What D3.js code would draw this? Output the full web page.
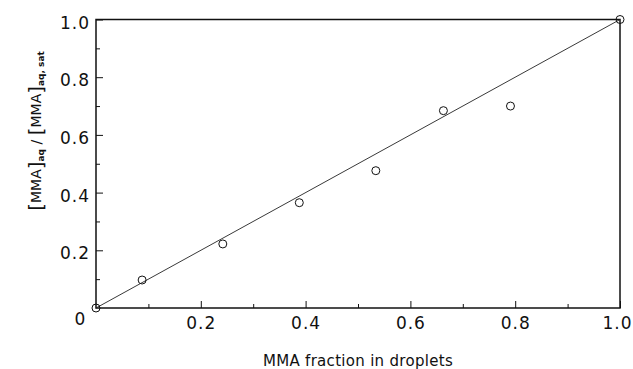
<!DOCTYPE html>
<html>
<head>
<meta charset="utf-8">
<script src="https://cdn.jsdelivr.net/npm/d3@7"></script>
<style>
  body { margin: 0; background: #fff; }
  svg text { font-family: 'DejaVu Sans', sans-serif; fill: #111; }
</style>
</head>
<body>
<div id="chart"></div>
<script>
// measured points: MMA fraction in droplets vs normalised aqueous MMA
const fraction = [0, 0.088, 0.242, 0.388, 0.534, 0.663, 0.791, 1.0]
const ratio = [0, 0.097, 0.222, 0.365, 0.476, 0.684, 0.700, 1.0]
// straight line drawn through the data
const lineX = [0, 1]
const lineY = [0, 1]
const majorTicks = [0.2, 0.4, 0.6, 0.8, 1.0]
const minorTicks = [0.1, 0.3, 0.5, 0.7, 0.9]

const width = 633, height = 369
const margin = {top: 19.5, right: 13, bottom: 61, left: 96}

const svg = d3.select('#chart').append('svg')
	.attr('width', width)
	.attr('height', height)

const x = d3.scaleLinear().domain([0, 1]).range([margin.left, width - margin.right])
const y = d3.scaleLinear().domain([0, 1]).range([height - margin.bottom, margin.top])

// minor ticks (inward, no labels)
svg.append('g')
	.attr('transform', `translate(0,${y(0)})`)
	.call(d3.axisBottom(x).tickValues(minorTicks).tickSize(-4).tickFormat(''))
svg.append('g')
	.attr('transform', `translate(${x(0)},0)`)
	.call(d3.axisLeft(y).tickValues(minorTicks).tickSize(-4).tickFormat(''))

// major ticks with labels
const xAxis = svg.append('g')
	.attr('transform', `translate(0,${y(0)})`)
	.call(d3.axisBottom(x).tickValues(majorTicks).tickSize(-7).tickPadding(9).tickFormat(d3.format('.1f')))
const yAxis = svg.append('g')
	.attr('transform', `translate(${x(0)},0)`)
	.call(d3.axisLeft(y).tickValues(majorTicks).tickSize(-7).tickPadding(6).tickFormat(d3.format('.1f')))

svg.selectAll('.domain').remove()
svg.selectAll('.tick line').attr('stroke', '#111').attr('stroke-width', 1)
svg.selectAll('.tick text')
	.style('font-size', '17px')
	.style('letter-spacing', '1px')
	.attr('fill', '#111')
yAxis.selectAll('.tick text').attr('dy', '0.5em')
// last label sits against the right edge, pull it in a little
xAxis.selectAll('.tick text').filter(d => d === 1).attr('dx', -3)

// shared zero at the corner
svg.append('text')
	.attr('x', x(0) - 16)
	.attr('y', y(0) + 17)
	.attr('text-anchor', 'middle')
	.style('font-size', '17px')
	.text('0')

// frame
svg.append('rect')
	.attr('x', x(0))
	.attr('y', y(1))
	.attr('width', x(1) - x(0))
	.attr('height', y(0) - y(1))
	.attr('fill', 'none')
	.attr('stroke', '#111')
	.attr('stroke-width', 1.5)

// fitted line
svg.append('path')
	.datum(d3.zip(lineX, lineY))
	.attr('fill', 'none')
	.attr('stroke', '#222')
	.attr('stroke-width', 0.9)
	.attr('d', d3.line().x(d => x(d[0])).y(d => y(d[1])))

// data points
svg.selectAll('circle')
	.data(d3.zip(fraction, ratio))
	.enter()
	.append('circle')
	.attr('cx', d => x(d[0]))
	.attr('cy', d => y(d[1]))
	.attr('r', 4)
	.attr('fill', 'none')
	.attr('stroke', '#111')
	.attr('stroke-width', 1)

// x axis title
svg.append('text')
	.attr('x', (x(0) + x(1)) / 2)
	.attr('y', 366)
	.attr('text-anchor', 'middle')
	.style('font-size', '15px')
	.style('letter-spacing', '0.3px')
	.text('MMA fraction in droplets')

// y axis title with subscripts and tall brackets
const yTitle = svg.append('text')
	.attr('transform', 'translate(41,131) rotate(-90)')
	.attr('text-anchor', 'middle')
	.style('font-size', '14px')
const part = (t, opts = {}) => {
	const s = yTitle.append('tspan').text(t)
	if (opts.size) s.style('font-size', opts.size)
	if (opts.dy) s.attr('dy', opts.dy)
	if (opts.bold) s.style('font-weight', 'bold')
	return s
}
part('[', {size: '20px', dy: 2})
part('MMA', {dy: -2})
part(']', {size: '20px', dy: 2})
part('aq', {size: '9px', bold: true, dy: 1})
part(' / ', {dy: -3})
part('[', {size: '20px', dy: 2})
part('MMA', {dy: -2})
part(']', {size: '20px', dy: 2})
part('aq, sat', {size: '9px', bold: true, dy: 1})
</script>
</body>
</html>
